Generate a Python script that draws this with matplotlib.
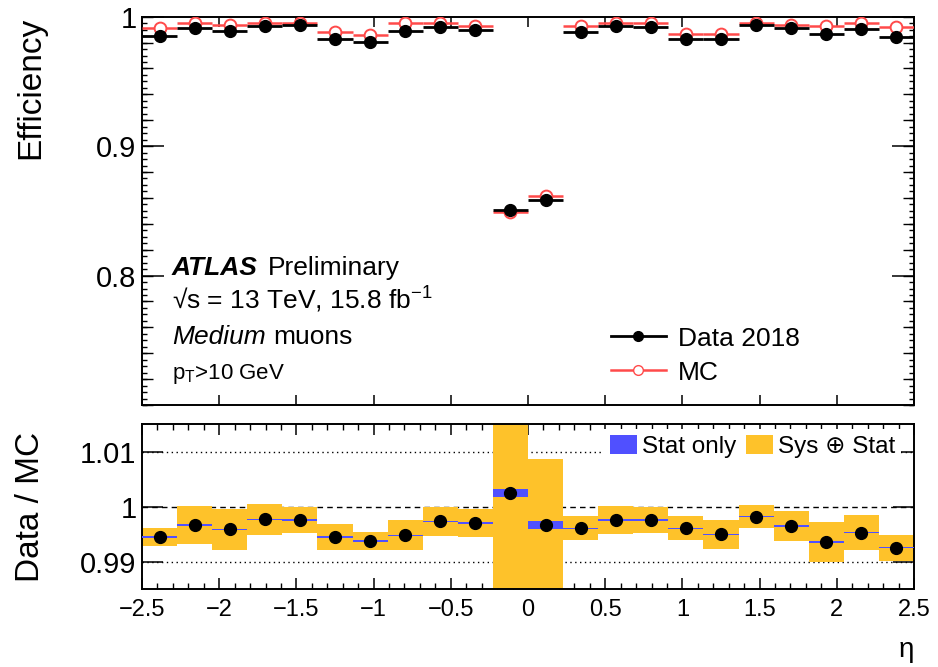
#!/usr/bin/env python3
"""Muon reconstruction efficiency vs eta, data 2018 vs MC, with data/MC ratio."""

import numpy as np
import matplotlib

matplotlib.use("Agg")
import matplotlib.pyplot as plt
from matplotlib.lines import Line2D
from matplotlib.patches import Patch

plt.rcParams["font.family"] = ["Liberation Sans", "DejaVu Sans"]
plt.rcParams["mathtext.fontset"] = "custom"
plt.rcParams["mathtext.rm"] = "Liberation Sans"
plt.rcParams["mathtext.it"] = "Liberation Sans:italic"
plt.rcParams["mathtext.bf"] = "Liberation Sans:bold"

# 22 equal eta bins between -2.5 and 2.5
eta_edges = np.linspace(-2.5, 2.5, 23)

eff_data = [0.9852, 0.9911, 0.9893, 0.9931, 0.9936, 0.9826, 0.9803, 0.9893, 0.9918, 0.9898, 0.8510,
            0.8585, 0.9885, 0.9931, 0.9918, 0.9826, 0.9826, 0.9936, 0.9911, 0.9867, 0.9905, 0.9846]
eff_mc = [0.9911, 0.9949, 0.9936, 0.9949, 0.9954, 0.9885, 0.9859, 0.9949, 0.9949, 0.9930, 0.8490,
          0.8613, 0.9928, 0.9949, 0.9949, 0.9867, 0.9867, 0.9949, 0.9936, 0.9928, 0.9949, 0.9923]

ratio = [0.99447, 0.99664, 0.99586, 0.99766, 0.99754, 0.99447, 0.99375, 0.99477, 0.99730, 0.99703, 1.00246,
         0.99664, 0.99604, 0.99754, 0.99754, 0.99604, 0.99495, 0.99814, 0.99646, 0.99357, 0.99525, 0.99249]
ratio_stat = [0.00012, 0.00012, 0.00012, 0.00012, 0.00012, 0.00012, 0.00012, 0.00012, 0.00012, 0.00012, 0.0007,
              0.0007, 0.00012, 0.00012, 0.00012, 0.00012, 0.00012, 0.00012, 0.00012, 0.00012, 0.00012, 0.00012]
ratio_syst = [0.0017, 0.0035, 0.0037, 0.0028, 0.0023, 0.0024, 0.0017, 0.0027, 0.0027, 0.0026, 0.0180,
              0.0120, 0.0022, 0.0025, 0.0024, 0.0022, 0.0026, 0.0021, 0.0027, 0.0037, 0.0032, 0.0024]

xtick_vals = [-2.5, -2, -1.5, -1, -0.5, 0, 0.5, 1, 1.5, 2, 2.5]
xtick_labels = ["\u22122.5", "\u22122", "\u22121.5", "\u22121", "\u22120.5", "0", "0.5", "1", "1.5", "2", "2.5"]

RED = "#ff4a4a"
BLUE = "#5050ff"
YELLOW = "#fec22a"


def main() -> int:
    centers = 0.5 * (eta_edges[1:] + eta_edges[:-1])
    half_w = 0.5 * np.diff(eta_edges)

    fig = plt.figure(figsize=(9.38, 6.67), dpi=100)
    ax = fig.add_axes([0.1514, 0.3928, 0.823, 0.5822])
    rax = fig.add_axes([0.1514, 0.1169, 0.823, 0.2474])

    # ---- top panel
    ax.errorbar(centers, eff_mc, xerr=half_w, fmt="o", color=RED, mfc="white", mec=RED,
                ms=8.5, mew=1.4, elinewidth=1.8, capsize=0, zorder=3)
    ax.errorbar(centers, eff_data, xerr=half_w, fmt="o", color="black", ms=8.5,
                elinewidth=2.0, capsize=0, zorder=4)
    ax.set_xlim(-2.5, 2.5)
    ax.set_ylim(0.7013, 1.0)
    ax.set_xticks(xtick_vals)
    ax.set_yticks([0.8, 0.9, 1.0])
    ax.set_yticklabels(["0.8", "0.9", "1"])
    ax.set_yticks(np.arange(0.70, 1.0001, 0.005), minor=True)
    ax.tick_params(axis="x", which="both", direction="in", top=True, bottom=True,
                   labelbottom=False, length=7, width=1.1)
    ax.tick_params(axis="y", which="major", direction="in", left=True, right=True,
                   length=16, width=1.1, labelsize=21, pad=4)
    ax.tick_params(axis="y", which="minor", direction="in", left=True, right=True,
                   length=3.5, width=1.0)
    for loc in ("left", "right"):
        sec = ax.secondary_yaxis(loc)
        sec.set_yticks(np.arange(0.70, 1.0001, 0.02))
        sec.tick_params(direction="in", length=8, width=1.0, labelleft=False, labelright=False)
        sec.yaxis.set_minor_locator(matplotlib.ticker.NullLocator())
        sec.spines[loc].set_visible(False)
    for sp in ax.spines.values():
        sp.set_linewidth(1.4)
    ax.set_ylabel("Efficiency", fontsize=24, loc="top")
    ax.yaxis.set_label_coords(-0.124, 1.0)

    ax.text(0.0389, 0.335, "ATLAS", transform=ax.transAxes, fontsize=19,
            fontweight="bold", fontstyle="italic", va="baseline")
    ax.text(0.163, 0.335, "Preliminary", transform=ax.transAxes, fontsize=19, va="baseline")
    ax.text(0.0389, 0.246, "\u221as = 13 TeV, 15.8 fb$^{\\mathregular{-1}}$", transform=ax.transAxes,
            fontsize=19, va="baseline")
    ax.text(0.0389, 0.158, "Medium", transform=ax.transAxes, fontsize=19,
            fontstyle="italic", va="baseline")
    ax.text(0.170, 0.158, "muons", transform=ax.transAxes, fontsize=19, va="baseline")
    ax.text(0.0389, 0.066, "p$_{\\mathregular{T}}$>10 GeV", transform=ax.transAxes,
            fontsize=16, va="baseline")

    handles = [
        Line2D([], [], color="black", marker="o", ms=7, lw=2.0),
        Line2D([], [], color=RED, marker="o", ms=7, mfc="white", mec=RED, lw=1.8),
    ]
    ax.legend(handles, ["Data 2018", "MC"], loc="upper left", bbox_to_anchor=(0.607, 0.202),
              frameon=False, fontsize=19, handlelength=2.1, handletextpad=0.45,
              labelspacing=0.38, borderpad=0, borderaxespad=0)

    # ---- ratio panel
    rax.axhline(1.01, color="black", lw=1.0, ls=(0, (1, 2.5)), zorder=1)
    rax.axhline(0.99, color="black", lw=1.0, ls=(0, (1, 2.5)), zorder=1)
    rax.axhline(1.0, color="black", lw=1.0, ls=(0, (4, 3)), zorder=1)
    ratio_arr = np.asarray(ratio)
    syst_arr = np.asarray(ratio_syst)
    stat_arr = np.asarray(ratio_stat)
    rax.bar(centers, 2 * syst_arr, bottom=ratio_arr - syst_arr, width=2 * half_w,
            color=YELLOW, lw=0, zorder=2, label="Sys \u2295 Stat")
    rax.bar(centers, 2 * stat_arr, bottom=ratio_arr - stat_arr, width=2 * half_w,
            color=BLUE, lw=0, zorder=3, label="Stat only")
    rax.plot(centers, ratio_arr, "o", color="black", ms=8.5, zorder=4)
    rax.set_xlim(-2.5, 2.5)
    rax.set_ylim(0.985, 1.015)
    rax.set_xticks(xtick_vals)
    rax.set_xticklabels(xtick_labels)
    rax.set_xticks(np.arange(-2.5, 2.5001, 0.1), minor=True)
    rax.set_yticks([0.99, 1.0, 1.01])
    rax.set_yticklabels(["0.99", "1", "1.01"])
    rax.tick_params(axis="x", which="major", direction="in", top=True, bottom=True,
                    length=8, width=1.1, labelsize=17, pad=7)
    rax.tick_params(axis="x", which="minor", direction="in", top=True, bottom=True,
                    length=4, width=1.0)
    rax.tick_params(axis="y", which="major", direction="in", left=True, right=True,
                    length=15, width=1.1, labelsize=21, pad=4)
    for sp in rax.spines.values():
        sp.set_linewidth(1.4)
    rax.set_ylabel("Data / MC", fontsize=24)
    rax.yaxis.set_label_coords(-0.124, 0.5)
    rax.set_xlabel("\u03b7", fontsize=20, loc="right")
    rax.xaxis.set_label_coords(1.0, -0.29)

    leg_handles = [Patch(facecolor=BLUE, edgecolor="none"), Patch(facecolor=YELLOW, edgecolor="none")]
    leg = rax.legend(leg_handles, ["Stat only", "Sys \u2295 Stat"], ncol=2, loc="upper right",
                     bbox_to_anchor=(0.983, 0.97), fontsize=17.5, frameon=True, fancybox=False,
                     facecolor="white", edgecolor="none", framealpha=1.0, handlelength=1.1,
                     handleheight=0.85, handletextpad=0.2, columnspacing=0.4, borderpad=0.25,
                     borderaxespad=0)
    leg.set_zorder(5)

    fig.savefig("out.png", dpi=100, facecolor="white")
    plt.close(fig)
    return 0


if __name__ == "__main__":
    raise SystemExit(main())
